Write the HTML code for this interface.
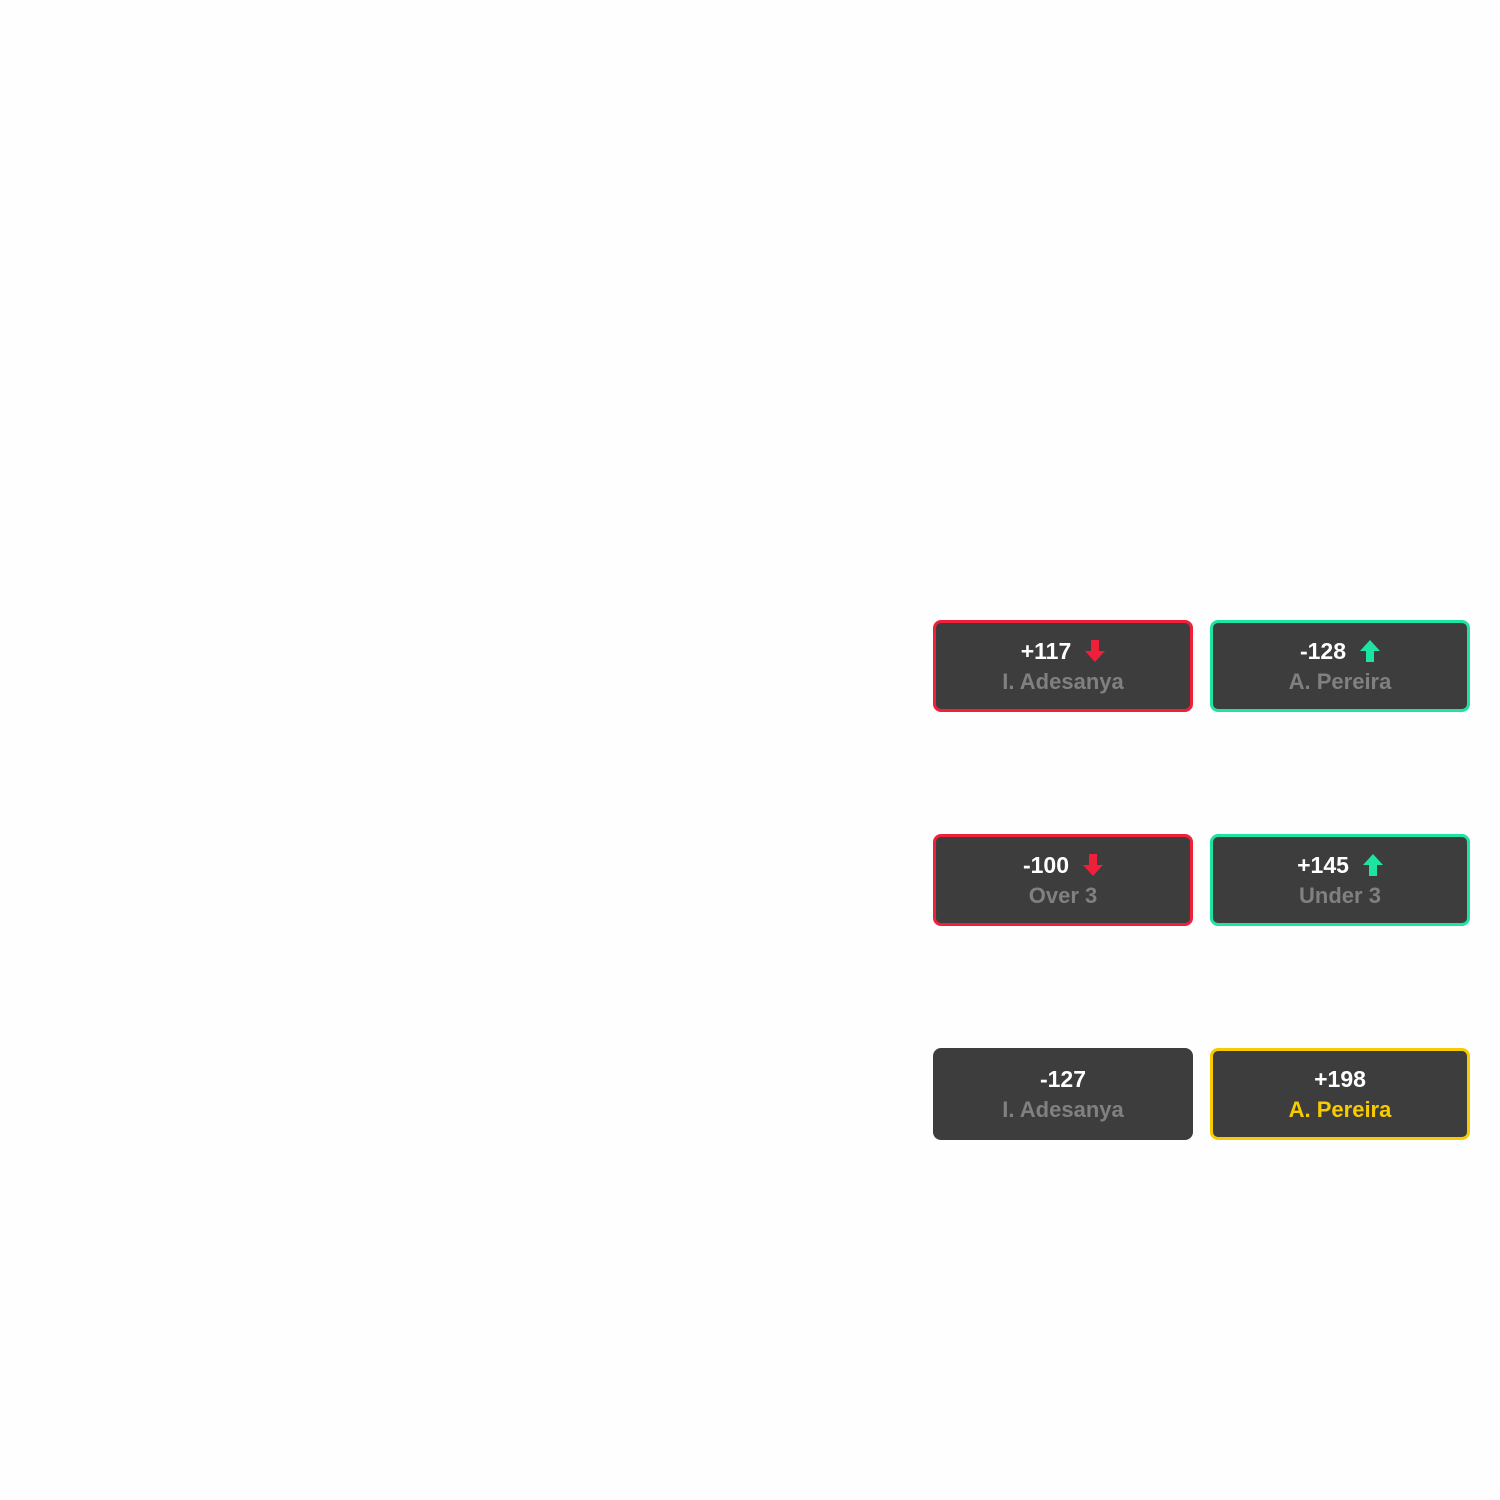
<!DOCTYPE html>
<html><head><style>
body{margin:0;width:1500px;height:1500px;background:#fefefe;position:relative;font-family:"Liberation Sans",sans-serif;}
.b{position:absolute;width:260px;height:92px;box-sizing:border-box;background:#3d3d3d;border-radius:8px;border:3.5px solid transparent;text-align:center;font-weight:bold;}
.t{position:absolute;left:0;right:0;top:14px;font-size:23px;color:#fff;line-height:28px;}
.s{position:absolute;left:0;right:0;top:45px;font-size:22px;color:#808080;line-height:28px;}
.r{border-color:#f0203a}.g{border-color:#1de3a3}.y{border-color:#f8cb00}
svg{vertical-align:-3px;margin-left:14px}
</style></head><body>
<div class="b r" style="left:933px;top:620px"><div class="t">+117<svg width="20" height="22" viewBox="0 0 20 22"><path d="M6 0h8v11h6L10 22 0 11h6z" fill="#f0203a"/></svg></div><div class="s">I. Adesanya</div></div>
<div class="b g" style="left:1210px;top:620px"><div class="t">-128<svg width="20" height="22" viewBox="0 0 20 22"><path d="M6 22h8V11h6L10 0 0 11h6z" fill="#1de3a3"/></svg></div><div class="s">A. Pereira</div></div>
<div class="b r" style="left:933px;top:834px"><div class="t">-100<svg width="20" height="22" viewBox="0 0 20 22"><path d="M6 0h8v11h6L10 22 0 11h6z" fill="#f0203a"/></svg></div><div class="s">Over 3</div></div>
<div class="b g" style="left:1210px;top:834px"><div class="t">+145<svg width="20" height="22" viewBox="0 0 20 22"><path d="M6 22h8V11h6L10 0 0 11h6z" fill="#1de3a3"/></svg></div><div class="s">Under 3</div></div>
<div class="b" style="left:933px;top:1048px"><div class="t">-127</div><div class="s">I. Adesanya</div></div>
<div class="b y" style="left:1210px;top:1048px"><div class="t">+198</div><div class="s" style="color:#f8cb00">A. Pereira</div></div>
</body></html>
